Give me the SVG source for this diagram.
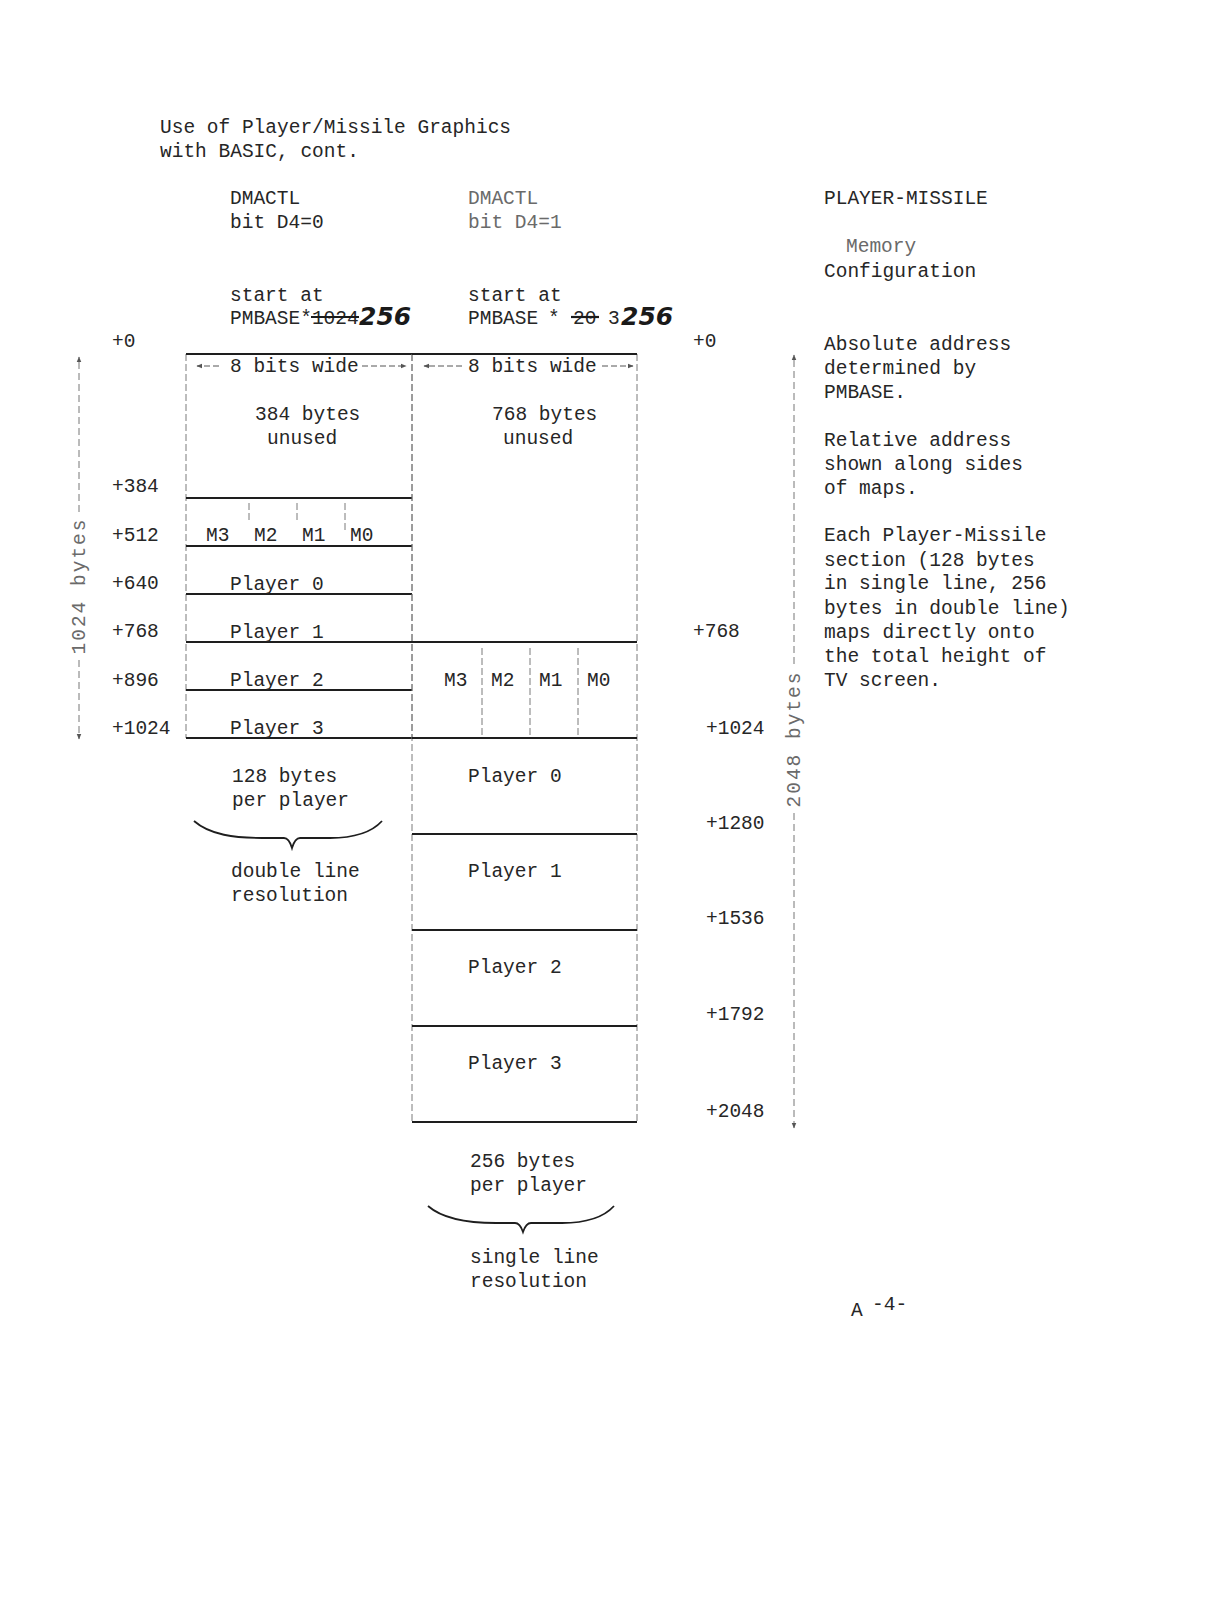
<svg xmlns="http://www.w3.org/2000/svg" width="1221" height="1598" viewBox="0 0 1221 1598">
<style>
.t{font-family:"Liberation Mono","Courier New",monospace;font-size:19.5px;fill:#262626}
.f{fill:#6a6a6a}
.hand{font-family:"DejaVu Sans",sans-serif;font-weight:bold;font-style:italic;font-size:25px;fill:#1a1a1a}
.hl{stroke:#1e1e1e;stroke-width:1.8;fill:none}
.vl{stroke:#7a7a7a;stroke-width:1;stroke-dasharray:7 3;fill:none}
.dim{stroke:#777;stroke-width:1;stroke-dasharray:7 4;fill:none}
.br{stroke:#1e1e1e;stroke-width:1.8;fill:none}
.ar{stroke:#555;stroke-width:1;fill:none}
</style>
<defs>
<marker id="ah" viewBox="0 0 10 10" refX="9" refY="5" markerWidth="6" markerHeight="6" orient="auto-start-reverse"><path d="M0,1 L10,5 L0,9 z" fill="#555"/></marker>
</defs>
<rect width="1221" height="1598" fill="#fff"/>

<g id="title">
<text class="t" x="160" y="133">Use of Player/Missile Graphics</text>
<text class="t" x="160" y="157">with BASIC, cont.</text>
</g>

<g id="head-left">
<text class="t" x="230" y="204">DMACTL</text>
<text class="t" x="230" y="228">bit D4=0</text>
<text class="t" x="230" y="301">start at</text>
<text class="t" x="230" y="324">PMBASE*1024</text>
<line x1="311" y1="317" x2="359" y2="317" stroke="#1a1a1a" stroke-width="2.2"/>
<text class="hand" x="359" y="325">256</text>
</g>

<g id="head-right">
<text class="t f" x="468" y="204">DMACTL</text>
<text class="t f" x="468" y="228">bit D4=1</text>
<text class="t" x="468" y="301">start at</text>
<text class="t" x="468" y="324">PMBASE</text>
<text class="t" x="548" y="324">*</text>
<text class="t" x="573" y="324">20</text>
<line x1="571" y1="317" x2="599" y2="317" stroke="#1a1a1a" stroke-width="2.2"/>
<text class="t" x="608" y="324">3</text>
<text class="hand" x="621" y="325">256</text>
</g>

<g id="head-config">
<text class="t" x="824" y="204">PLAYER-MISSILE</text>
<text class="t f" x="846" y="252">Memory</text>
<text class="t" x="824" y="277">Configuration</text>
</g>

<g id="notes">
<text class="t" x="824" y="350">Absolute address</text>
<text class="t" x="824" y="374">determined by</text>
<text class="t" x="824" y="398">PMBASE.</text>
<text class="t" x="824" y="446">Relative address</text>
<text class="t" x="824" y="470">shown along sides</text>
<text class="t" x="824" y="494">of maps.</text>
<text class="t" x="824" y="541">Each Player-Missile</text>
<text class="t" x="824" y="566">section (128 bytes</text>
<text class="t" x="824" y="589">in single line, 256</text>
<text class="t" x="824" y="614">bytes in double line)</text>
<text class="t" x="824" y="638">maps directly onto</text>
<text class="t" x="824" y="662">the total height of</text>
<text class="t" x="824" y="686">TV screen.</text>
</g>

<g id="left-offsets">
<text class="t" x="112" y="347">+0</text>
<text class="t" x="112" y="492">+384</text>
<text class="t" x="112" y="541">+512</text>
<text class="t" x="112" y="589">+640</text>
<text class="t" x="112" y="637">+768</text>
<text class="t" x="112" y="686">+896</text>
<text class="t" x="112" y="734">+1024</text>
</g>

<g id="right-offsets">
<text class="t" x="693" y="347">+0</text>
<text class="t" x="693" y="637">+768</text>
<text class="t" x="706" y="734">+1024</text>
<text class="t" x="706" y="829">+1280</text>
<text class="t" x="706" y="924">+1536</text>
<text class="t" x="706" y="1020">+1792</text>
<text class="t" x="706" y="1117">+2048</text>
</g>

<g id="dim-left">
<line class="dim" x1="79" y1="512" x2="79" y2="357" marker-end="url(#ah)"/>
<line class="dim" x1="79" y1="660" x2="79" y2="739" marker-end="url(#ah)"/>
<text class="t f" transform="translate(85,586) rotate(-90)" text-anchor="middle" letter-spacing="2">1024 bytes</text>
</g>

<g id="dim-right">
<line class="dim" x1="794" y1="664" x2="794" y2="355" marker-end="url(#ah)"/>
<line class="dim" x1="794" y1="813" x2="794" y2="1128" marker-end="url(#ah)"/>
<text class="t f" transform="translate(800,739) rotate(-90)" text-anchor="middle" letter-spacing="2">2048 bytes</text>
</g>

<g id="map-left">
<line class="vl" x1="186" y1="354" x2="186" y2="738"/>
<line class="vl" x1="412" y1="354" x2="412" y2="738"/>
<line class="hl" x1="186" y1="354" x2="412" y2="354"/>
<line class="hl" x1="186" y1="498" x2="412" y2="498"/>
<line class="hl" x1="186" y1="546" x2="412" y2="546"/>
<line class="hl" x1="186" y1="594" x2="412" y2="594"/>
<line class="hl" x1="186" y1="642" x2="412" y2="642"/>
<line class="hl" x1="186" y1="690" x2="412" y2="690"/>
<line class="hl" x1="186" y1="738" x2="412" y2="738"/>
<line class="ar" x1="219" y1="366" x2="197" y2="366" stroke-dasharray="6 3" marker-end="url(#ah)"/>
<text class="t" x="230" y="372">8 bits wide</text>
<line class="ar" x1="362" y1="366" x2="406" y2="366" stroke-dasharray="6 3" marker-end="url(#ah)"/>
<text class="t" x="255" y="420">384 bytes</text>
<text class="t" x="267" y="444">unused</text>
<line class="vl" x1="249" y1="503" x2="249" y2="521"/>
<line class="vl" x1="297" y1="503" x2="297" y2="521"/>
<line class="vl" x1="345" y1="503" x2="345" y2="530"/>
<text class="t" x="206" y="541">M3</text>
<text class="t" x="254" y="541">M2</text>
<text class="t" x="302" y="541">M1</text>
<text class="t" x="350" y="541">M0</text>
<text class="t" x="230" y="590">Player 0</text>
<text class="t" x="230" y="638">Player 1</text>
<text class="t" x="230" y="686">Player 2</text>
<text class="t" x="230" y="734">Player 3</text>
</g>

<g id="map-right">
<line class="vl" x1="412" y1="354" x2="412" y2="1122"/>
<line class="vl" x1="637" y1="354" x2="637" y2="1122"/>
<line class="hl" x1="412" y1="354" x2="637" y2="354"/>
<line class="hl" x1="412" y1="642" x2="637" y2="642"/>
<line class="hl" x1="412" y1="738" x2="637" y2="738"/>
<line class="hl" x1="412" y1="834" x2="637" y2="834"/>
<line class="hl" x1="412" y1="930" x2="637" y2="930"/>
<line class="hl" x1="412" y1="1026" x2="637" y2="1026"/>
<line class="hl" x1="412" y1="1122" x2="637" y2="1122"/>
<line class="ar" x1="462" y1="366" x2="424" y2="366" stroke-dasharray="6 3" marker-end="url(#ah)"/>
<text class="t" x="468" y="372">8 bits wide</text>
<line class="ar" x1="602" y1="366" x2="633" y2="366" stroke-dasharray="6 3" marker-end="url(#ah)"/>
<text class="t" x="492" y="420">768 bytes</text>
<text class="t" x="503" y="444">unused</text>
<line class="vl" x1="482" y1="648" x2="482" y2="736"/>
<line class="vl" x1="530" y1="648" x2="530" y2="736"/>
<line class="vl" x1="578" y1="648" x2="578" y2="736"/>
<text class="t" x="444" y="686">M3</text>
<text class="t" x="491" y="686">M2</text>
<text class="t" x="539" y="686">M1</text>
<text class="t" x="587" y="686">M0</text>
<text class="t" x="468" y="782">Player 0</text>
<text class="t" x="468" y="877">Player 1</text>
<text class="t" x="468" y="973">Player 2</text>
<text class="t" x="468" y="1069">Player 3</text>
</g>

<g id="caption-left">
<text class="t" x="232" y="782">128 bytes</text>
<text class="t" x="232" y="806">per player</text>
<path class="br" d="M194,821 C210,835 235,838 262,838 L284,838 Q289,838 292,848 Q295,838 300,838 L330,838 C356,838 372,832 382,821"/>
<text class="t" x="231" y="877">double line</text>
<text class="t" x="231" y="901">resolution</text>
</g>

<g id="caption-right">
<text class="t" x="470" y="1167">256 bytes</text>
<text class="t" x="470" y="1191">per player</text>
<path class="br" d="M428,1206 C444,1220 470,1223 496,1223 L515,1223 Q520,1223 523,1232 Q526,1223 531,1223 L562,1223 C588,1223 604,1217 614,1206"/>
<text class="t" x="470" y="1263">single line</text>
<text class="t" x="470" y="1287">resolution</text>
</g>

<g id="page">
<text class="t" x="851" y="1316" font-size="16">A</text>
<text class="t" x="872" y="1310">-4-</text>
</g>
</svg>
